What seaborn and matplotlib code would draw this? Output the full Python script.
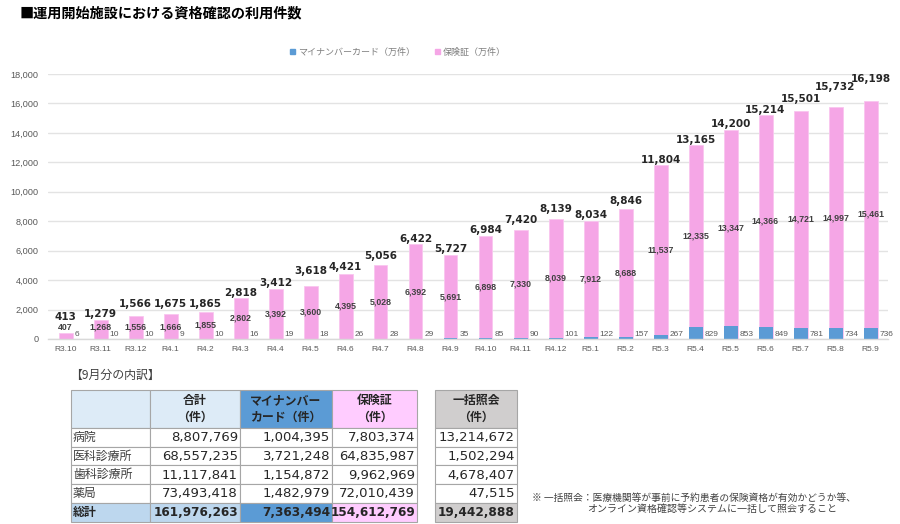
import numpy as np
import pandas as pd
import matplotlib
matplotlib.use("Agg")
import matplotlib.pyplot as plt
import seaborn as sns
from matplotlib.patches import Rectangle, Patch

# ---------------- data ----------------
months = ["R3.10", "R3.11", "R3.12", "R4.1", "R4.2", "R4.3", "R4.4", "R4.5",
          "R4.6", "R4.7", "R4.8", "R4.9", "R4.10", "R4.11", "R4.12", "R5.1",
          "R5.2", "R5.3", "R5.4", "R5.5", "R5.6", "R5.7", "R5.8", "R5.9"]
mynumber = [6, 10, 10, 9, 10, 16, 19, 18, 26, 28, 29, 35, 85, 90, 101, 122,
            157, 267, 829, 853, 849, 781, 734, 736]
hoken = [407, 1268, 1556, 1666, 1855, 2802, 3392, 3600, 4395, 5028, 6392, 5691,
         6898, 7330, 8039, 7912, 8688, 11537, 12335, 13347, 14366, 14721, 14997, 15461]
totals = [413, 1279, 1566, 1675, 1865, 2818, 3412, 3618, 4421, 5056, 6422, 5727,
          6984, 7420, 8139, 8034, 8846, 11804, 13165, 14200, 15214, 15501, 15732, 16198]

title = "■運用開始施設における資格確認の利用件数"
legend_labels = ["マイナンバーカード（万件）", "保険証（万件）"]
yticks = [0, 2000, 4000, 6000, 8000, 10000, 12000, 14000, 16000, 18000]

table_caption = "【9月分の内訳】"
table_rows = ["病院", "医科診療所", "歯科診療所", "薬局", "総計"]
table_total = [8807769, 68557235, 11117841, 73493418, 161976263]
table_mynumber = [1004395, 3721248, 1154872, 1482979, 7363494]
table_hoken = [7803374, 64835987, 9962969, 72010439, 154612769]
table_ikkatsu = [13214672, 1502294, 4678407, 47515, 19442888]
table_headers = ["", "合計\n（件）", "マイナンバー\nカード（件）", "保険証\n（件）"]
ikkatsu_header = "一括照会\n（件）"
footnote1 = "※ 一括照会：医療機関等が事前に予約患者の保険資格が有効かどうか等、"
footnote2 = "オンライン資格確認等システムに一括して照会すること"

# ---------------- style ----------------
BLUE = "#5B9BD5"
PINK = "#F5A6E6"
GRAY = "#595959"
GRID = "#D9D9D9"
JP = ["Noto Sans CJK JP", "DejaVu Sans"]
NUM = ["DejaVu Sans", "Noto Sans CJK JP"]
LIB = ["Liberation Sans", "DejaVu Sans"]

sns.set_theme(style="white")
plt.rcParams["font.family"] = JP

W, H = 900, 524
fig = plt.figure(figsize=(W / 100, H / 100), dpi=100)
fig.patch.set_facecolor("white")

ax = fig.add_axes([48 / W, 1 - 339 / H, 840 / W, 265 / H])

df = pd.DataFrame({"month": months, "mynumber": mynumber, "hoken": hoken})
df["stack"] = df["mynumber"] + df["hoken"]

sns.barplot(data=df, x="month", y="stack", color=PINK, width=0.4,
            saturation=1, ax=ax, edgecolor="#F9C6EF", linewidth=0.6)
sns.barplot(data=df, x="month", y="mynumber", color=BLUE, width=0.4,
            saturation=1, ax=ax, linewidth=0)

ax.set_ylim(0, 18000)
ax.set_xlim(-0.5, len(months) - 0.5)
ax.set_xlabel("")
ax.set_ylabel("")
ax.set_yticks(yticks)
ax.set_yticklabels([f"{v:,}" for v in yticks], family=LIB, fontsize=6.6, color=GRAY)
ax.set_xticks(range(len(months)))
ax.set_xticklabels(months, family=LIB, fontsize=6.0, color=GRAY)
ax.tick_params(axis="y", length=0, pad=7)
ax.tick_params(axis="x", length=0, pad=5)
ax.yaxis.grid(True, color="#E3E3E3", lw=1)
ax.xaxis.grid(False)
ax.set_axisbelow(True)
for s in ["top", "right", "left"]:
    ax.spines[s].set_visible(False)
ax.spines["bottom"].set_color(GRID)
ax.spines["bottom"].set_linewidth(1)

# label gaps above bars (pixels), matching the reference's manual placement
gaps = [13, 3, 9, 7, 5, 2, 3, 12, 4, 6, 2, 3, 3, 7, 7, 3, 5, 2, 2, 3, 2, 9, 17, 19]
for i, (m, h, t) in enumerate(zip(mynumber, hoken, totals)):
    ax.annotate(f"{t:,}", (i, m + h), xytext=(0, gaps[i] * 0.72),
                textcoords="offset points", ha="center", va="baseline",
                fontsize=7.5, fontweight="bold", color="#262626", family=NUM)
    ax.text(i, max(m + h / 2, 800), f"{h:,}", ha="center", va="center",
            fontsize=6.3, fontweight="bold", color="#404040", family=LIB)
    ax.annotate(f"{m:,}", (i + 0.2, 0), xytext=(1.5, 3),
                textcoords="offset points", ha="left", va="center",
                fontsize=6.0, color=GRAY, family=LIB)

# legend
handles = [Patch(color=BLUE), Patch(color=PINK)]
leg = fig.legend(handles, legend_labels, loc="center",
                 bbox_to_anchor=(398 / W, 1 - 52 / H), ncol=2, frameon=False,
                 handlelength=0.6, handleheight=0.6, handletextpad=0.3,
                 columnspacing=2.2, prop={"family": JP, "size": 6.5},
                 labelcolor="#7F7F7F")

# title
fig.text(20 / W, 1 - 13 / H, title, ha="left", va="center", fontsize=10.2,
         fontweight="bold", color="#000000", family=JP)


# ---------------- table ----------------
def rect(x0, y0, x1, y1, fc):
    fig.add_artist(Rectangle((x0 / W, 1 - y1 / H), (x1 - x0) / W, (y1 - y0) / H,
                             transform=fig.transFigure, facecolor=fc,
                             edgecolor="#A6A6A6", lw=0.8))


def txt(x, y, s, **kw):
    fig.text(x / W, 1 - y / H, s, **kw)


txt(70, 375, table_caption, ha="left", va="center", fontsize=8.6,
    color="#404040", family=JP)

cols = [71, 150, 240, 332, 417]
rows = [390, 428, 446.7, 465.4, 484.1, 502.8, 521.5]
head_colors = ["#DDEBF7", "#DDEBF7", BLUE, "#FFCCFF"]
total_colors = ["#BDD7EE", "#BDD7EE", BLUE, "#FFCCFF"]

for c in range(4):
    rect(cols[c], rows[0], cols[c + 1], rows[1], head_colors[c])
    if table_headers[c]:
        txt((cols[c] + cols[c + 1]) / 2, (rows[0] + rows[1]) / 2, table_headers[c],
            ha="center", va="center", fontsize=8.6, fontweight="bold",
            color="#262626", family=JP, linespacing=1.45)

col_values = [table_total, table_mynumber, table_hoken]
for r in range(5):
    y0, y1 = rows[r + 1], rows[r + 2]
    yc = (y0 + y1) / 2
    last = r == 4
    for c in range(4):
        rect(cols[c], y0, cols[c + 1], y1, total_colors[c] if last else "white")
    txt(cols[0] + 2, yc, table_rows[r], ha="left", va="center", fontsize=8.6,
        fontweight="bold" if last else "normal",
        color="#262626" if last else "#404040", family=JP)
    for c in range(3):
        v = col_values[c][r]
        txt(cols[c + 2] - 2, yc + 0.5, f"{v:,}", ha="right", va="center",
            fontsize=8.7 if last else 9.5, fontweight="bold" if last else "normal",
            color="#262626", family=NUM)

# 一括照会 table
ix0, ix1 = 435, 517
rect(ix0, rows[0], ix1, rows[1], "#D0CECE")
txt((ix0 + ix1) / 2, (rows[0] + rows[1]) / 2, ikkatsu_header, ha="center",
    va="center", fontsize=8.6, fontweight="bold", color="#262626", family=JP,
    linespacing=1.45)
for r in range(5):
    y0, y1 = rows[r + 1], rows[r + 2]
    last = r == 4
    rect(ix0, y0, ix1, y1, "#D0CECE" if last else "white")
    txt(ix1 - 2, (y0 + y1) / 2 + 0.5, f"{table_ikkatsu[r]:,}", ha="right",
        va="center", fontsize=8.7 if last else 9.5,
        fontweight="bold" if last else "normal", color="#262626", family=NUM)

# footnote
txt(532, 498, footnote1, ha="left", va="center", fontsize=7.0, color="#404040", family=JP)
txt(587, 508.5, footnote2, ha="left", va="center", fontsize=7.2, color="#404040", family=JP)

fig.savefig("out.png", dpi=100, facecolor="white")
